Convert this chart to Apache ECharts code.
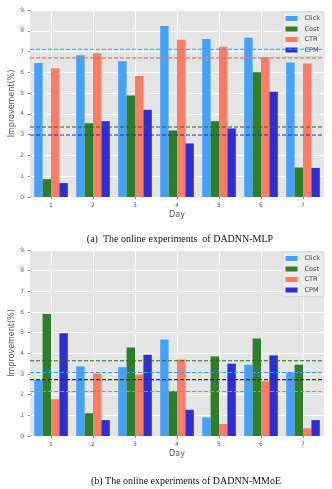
<!DOCTYPE html>
<html>
<head>
<meta charset="utf-8">
<script src="https://cdn.jsdelivr.net/npm/echarts@6/dist/echarts.min.js"></script>
<style>
  html, body { margin: 0; padding: 0; background: #fff; }
  #main { width: 332px; height: 489px; }
</style>
</head>
<body>
<div id="main"></div>
<script>
// days on the x axis
var days = ['1', '2', '3', '4', '5', '6', '7'];
var yTicks = [0, 1, 2, 3, 4, 5, 6, 7, 8, 9];

// (a) DADNN-MLP
var mlpClick = [6.45, 6.82, 6.53, 8.23, 7.60, 7.67, 6.47];
var mlpCost = [0.86, 3.55, 4.88, 3.20, 3.65, 6.00, 1.42];
var mlpCtr = [6.20, 6.92, 5.82, 7.57, 7.23, 6.72, 6.42];
var mlpCpm = [0.67, 3.65, 4.20, 2.58, 3.30, 5.07, 1.40];

// (b) DADNN-MMoE
var mmoeClick = [2.72, 3.37, 3.33, 4.67, 0.90, 3.45, 3.07];
var mmoeCost = [5.90, 1.10, 4.28, 2.18, 3.85, 4.72, 3.45];
var mmoeCtr = [1.78, 3.02, 2.98, 3.70, 0.58, 2.65, 0.37];
var mmoeCpm = [4.97, 0.77, 3.93, 1.27, 3.50, 3.90, 0.77];

var names = ['Click', 'Cost', 'CTR', 'CPM'];
// matplotlib colours at alpha 0.8 over the #e5e5e5 background
var colors = ['#46a1fa', '#2e7e2e', '#fa7d67', '#2e2ed2'];
var lineColors = ['#3d9bff', '#1a701a', '#fb6f55', '#1f1fd0'];

// helper axis: a slot on each side of every day, so the dashed
// mean lines reach both plot edges
var slots = [''];
days.forEach(function (d) { slots.push(d); slots.push(''); });

var grids = [
    { left: 30, top: 10, width: 294, height: 187 },
    { left: 30, top: 250, width: 294, height: 186 }
];

function avg(arr) {
    var s = 0;
    arr.forEach(function (v) { s += v; });
    return s / arr.length;
}

var chart = echarts.init(document.getElementById('main'));

function barSeries(idx, k, data) {
    return {
        name: names[k],
        type: 'bar',
        xAxisIndex: idx,
        yAxisIndex: idx,
        data: data,
        barGap: '0%',
        barCategoryGap: '20%',
        z: 3,
        itemStyle: { color: colors[k] },
        emphasis: { disabled: true }
    };
}

function meanSeries(idx, k, data) {
    var m = avg(data);
    return {
        name: names[k] + ' mean',
        type: 'line',
        xAxisIndex: idx + 2,
        yAxisIndex: idx,
        data: slots.map(function () { return m; }),
        symbol: 'none',
        silent: true,
        z: 4,
        lineStyle: { color: lineColors[k], type: [4, 2], width: 1.1 }
    };
}

function xAxis(idx) {
    return {
        type: 'category',
        gridIndex: idx,
        position: 'bottom',
        data: days,
        name: 'Day',
        nameLocation: 'middle',
        nameGap: 14,
        nameMoveOverlap: false,
        nameTextStyle: { color: '#555', fontSize: 8, fontFamily: 'DejaVu Sans' },
        axisLine: { show: false },
        axisTick: { show: true, alignWithLabel: true, length: 2, lineStyle: { color: '#888' } },
        axisLabel: { color: '#555', fontSize: 6, margin: 5, fontFamily: 'DejaVu Sans' },
        splitLine: { show: false }
    };
}

function slotAxis(idx) {
    return {
        type: 'category',
        gridIndex: idx,
        data: slots,
        boundaryGap: false,
        show: false
    };
}

// white vertical grid lines: inside ticks as tall as the plot, one per day
function dayLineAxis(idx) {
    return {
        type: 'category',
        gridIndex: idx,
        position: 'top',
        data: days,
        show: true,
        axisLine: { show: false },
        axisLabel: { show: false },
        axisTick: {
            show: true, inside: true, alignWithLabel: true,
            length: grids[idx].height,
            lineStyle: { color: '#ffffff', width: 1 }
        },
        splitLine: { show: false }
    };
}

function yAxis(idx) {
    return {
        type: 'value',
        gridIndex: idx,
        min: yTicks[0],
        max: yTicks[yTicks.length - 1],
        interval: 1,
        name: 'Improvement(%)',
        nameLocation: 'middle',
        nameGap: 14,
        nameMoveOverlap: false,
        nameTextStyle: { color: '#555', fontSize: 8, fontFamily: 'DejaVu Sans' },
        axisLine: { show: false },
        axisTick: { show: true, length: 2, lineStyle: { color: '#888' } },
        axisLabel: { color: '#666', fontSize: 6, margin: 6, fontFamily: 'DejaVu Sans' },
        splitLine: { show: true, lineStyle: { color: '#fff', width: 1 } }
    };
}

function legend(top) {
    return {
        data: names,
        orient: 'vertical',
        right: 8,
        top: top,
        itemWidth: 12,
        itemHeight: 5,
        itemGap: 3.5,
        icon: 'rect',
        padding: [3, 4, 3, 3],
        backgroundColor: 'rgba(235,235,235,0.9)',
        borderColor: '#cfcfcf',
        borderWidth: 0.6,
        borderRadius: 2,
        textStyle: { color: '#444', fontSize: 6.5, fontFamily: 'DejaVu Sans', padding: [0, 0, 0, 2] },
        selectedMode: false
    };
}

var option = {
    animation: false,
    color: colors,
    title: [
        {
            text: '(a)  The online experiments  of DADNN-MLP',
            left: 175, top: 229, textAlign: 'center',
            textStyle: { fontFamily: 'Liberation Serif', fontSize: 10, fontWeight: 'normal', color: '#111' }
        },
        {
            text: '(b) The online experiments of DADNN-MMoE',
            left: 181, top: 471, textAlign: 'center',
            textStyle: { fontFamily: 'Liberation Serif', fontSize: 10, fontWeight: 'normal', color: '#111' }
        }
    ],
    legend: [legend(12), legend(252)],
    grid: grids.map(function (g) {
        return {
            left: g.left, top: g.top, width: g.width, height: g.height,
            outerBoundsMode: 'none', containLabel: false,
            show: true, backgroundColor: '#e5e5e5', borderWidth: 0
        };
    }),
    xAxis: [xAxis(0), xAxis(1), slotAxis(0), slotAxis(1), dayLineAxis(0), dayLineAxis(1)],
    yAxis: [yAxis(0), yAxis(1)],
    series: [
        barSeries(0, 0, mlpClick),
        barSeries(0, 1, mlpCost),
        barSeries(0, 2, mlpCtr),
        barSeries(0, 3, mlpCpm),
        barSeries(1, 0, mmoeClick),
        barSeries(1, 1, mmoeCost),
        barSeries(1, 2, mmoeCtr),
        barSeries(1, 3, mmoeCpm),
        meanSeries(0, 0, mlpClick),
        meanSeries(0, 1, mlpCost),
        meanSeries(0, 2, mlpCtr),
        meanSeries(0, 3, mlpCpm),
        meanSeries(1, 0, mmoeClick),
        meanSeries(1, 1, mmoeCost),
        meanSeries(1, 2, mmoeCtr),
        meanSeries(1, 3, mmoeCpm)
    ]
};
chart.setOption(option);
</script>
</body>
</html>
